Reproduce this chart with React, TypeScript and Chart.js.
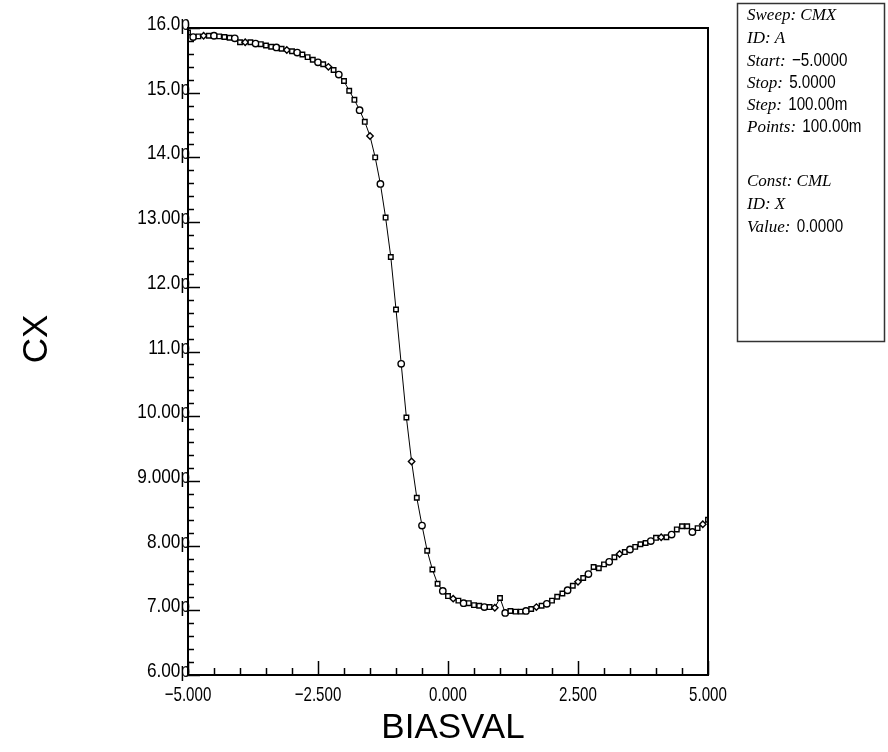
import React, { useEffect, useRef } from "react";
import { Chart, registerables } from "chart.js";

Chart.register(...registerables);

// Sweep values (V)
const biasVal = [
  -5.0, -4.9, -4.8, -4.7, -4.6, -4.5, -4.4, -4.3, -4.2, -4.1,
  -4.0, -3.9, -3.8, -3.7, -3.6, -3.5, -3.4, -3.3, -3.2, -3.1,
  -3.0, -2.9, -2.8, -2.7, -2.6, -2.5, -2.4, -2.3, -2.2, -2.1,
  -2.0, -1.9, -1.8, -1.7, -1.6, -1.5, -1.4, -1.3, -1.2, -1.1,
  -1.0, -0.9, -0.8, -0.7, -0.6, -0.5, -0.4, -0.3, -0.2, -0.1,
  0.0, 0.1, 0.2, 0.3, 0.4, 0.5, 0.6, 0.7, 0.8, 0.9,
  1.0, 1.1, 1.2, 1.3, 1.4, 1.5, 1.6, 1.7, 1.8, 1.9,
  2.0, 2.1, 2.2, 2.3, 2.4, 2.5, 2.6, 2.7, 2.8, 2.9,
  3.0, 3.1, 3.2, 3.3, 3.4, 3.5, 3.6, 3.7, 3.8, 3.9,
  4.0, 4.1, 4.2, 4.3, 4.4, 4.5, 4.6, 4.7, 4.8, 4.9,
  5.0,
];

// Measured capacitance (pF)
const cxPico = [
  15.93, 15.86, 15.87, 15.88, 15.88, 15.88, 15.87, 15.86, 15.85, 15.84,
  15.78, 15.78, 15.78, 15.76, 15.75, 15.73, 15.71, 15.70, 15.68, 15.66,
  15.64, 15.62, 15.59, 15.55, 15.51, 15.47, 15.44, 15.40, 15.35, 15.28,
  15.18, 15.03, 14.89, 14.73, 14.55, 14.33, 14.0, 13.59, 13.07, 12.46,
  11.65, 10.81, 9.98, 9.30, 8.74, 8.31, 7.92, 7.63, 7.41, 7.30,
  7.22, 7.18, 7.15, 7.11, 7.11, 7.08, 7.07, 7.05, 7.05, 7.04,
  7.19, 6.96, 6.99, 6.98, 6.98, 6.99, 7.02, 7.05, 7.07, 7.10,
  7.15, 7.21, 7.26, 7.31, 7.38, 7.44, 7.50, 7.56, 7.67, 7.65,
  7.71, 7.75, 7.82, 7.87, 7.90, 7.94, 7.98, 8.02, 8.04, 8.07,
  8.12, 8.13, 8.13, 8.17, 8.25, 8.30, 8.30, 8.21, 8.27, 8.33,
  8.40,
];

const yTickValues = [6, 7, 8, 9, 10, 11, 12, 13, 14, 15, 16];
const yTickLabels = ["6.00p", "7.00p", "8.00p", "9.000p", "10.00p", "11.0p", "12.0p", "13.00p", "14.0p", "15.0p", "16.0p"];
const xTickValues = [-5, -2.5, 0, 2.5, 5];
const xTickLabels = ["\u22125.000", "\u22122.500", "0.000", "2.500", "5.000"];

const legendLabels = ["Sweep:", "ID:", "Start:", "Stop:", "Step:", "Points:", "", "Const:", "ID:", "Value:"];
const legendValues = ["CMX", "A", "\u22125.0000", "5.0000", "100.00m", "100.00m", "", "CML", "X", "0.0000"];

const xTitle = "BIASVAL";
const yTitle = "CX";

const markerStyles = ["rect", "circle", "rect", "rectRot", "rect", "circle", "rect", "rect"];

const NUM_FONT = "21px 'Liberation Sans', Arial, sans-serif";
const SCRIPT = "italic 17px 'Liberation Serif', 'DejaVu Serif', serif";

function drawCondensed(ctx: CanvasRenderingContext2D, text: string, x: number, y: number, align: "left" | "center" | "right", sx: number, font = NUM_FONT) {
  ctx.save();
  ctx.font = font;
  ctx.textBaseline = "alphabetic";
  const w = ctx.measureText(text).width * sx;
  let left = x;
  if (align === "center") left = x - w / 2;
  if (align === "right") left = x - w;
  ctx.translate(left, y);
  ctx.scale(sx, 1);
  ctx.textAlign = "left";
  ctx.fillText(text, 0, 0);
  ctx.restore();
  return w;
}

const decorPlugin = {
  id: "decor",
  afterDraw(chart: any) {
    const ctx = chart.ctx as CanvasRenderingContext2D;
    const xs = chart.scales.x;
    const ys = chart.scales.y;
    const area = chart.chartArea;
    ctx.save();
    ctx.strokeStyle = "#000";
    ctx.fillStyle = "#000";
    ctx.lineWidth = 1.5;
    // inside ticks on y axis
    for (let i = 0; i <= 50; i++) {
      const v = 6 + i * 0.2;
      const y = Math.round(ys.getPixelForValue(v)) + 0.5;
      const len = i % 5 === 0 ? 12 : 6;
      ctx.beginPath();
      ctx.moveTo(area.left, y);
      ctx.lineTo(area.left + len, y);
      ctx.stroke();
    }
    // inside ticks on x axis
    for (let i = 0; i <= 20; i++) {
      const v = -5 + i * 0.5;
      const x = Math.round(xs.getPixelForValue(v)) + 0.5;
      const len = i % 5 === 0 ? 14 : 7;
      ctx.beginPath();
      ctx.moveTo(x, area.bottom);
      ctx.lineTo(x, area.bottom - len);
      ctx.stroke();
    }
    // frame
    ctx.lineWidth = 2;
    ctx.strokeRect(area.left, area.top, area.right - area.left, area.bottom - area.top);

    // tick labels
    yTickValues.forEach((v, i) => {
      const y = ys.getPixelForValue(v);
      drawCondensed(ctx, yTickLabels[i], area.left + 2, y + 2, "right", 0.82);
    });
    xTickValues.forEach((v, i) => {
      const x = xs.getPixelForValue(v);
      drawCondensed(ctx, xTickLabels[i], x, area.bottom + 26, "center", 0.72);
    });

    // axis titles
    ctx.font = "35px 'Liberation Sans', Arial, sans-serif";
    ctx.textAlign = "center";
    ctx.textBaseline = "alphabetic";
    ctx.fillText(xTitle, (area.left + area.right) / 2 + 5, 738);
    ctx.save();
    ctx.translate(47, 339);
    ctx.rotate(-Math.PI / 2);
    ctx.fillText(yTitle, 0, 0);
    ctx.restore();

    // info box
    ctx.lineWidth = 1.5;
    ctx.strokeStyle = "#333";
    ctx.strokeRect(737.5, 3.5, 147, 338);
    const rowY = [20, 43, 66, 88, 110, 132, 0, 186, 209, 232];
    for (let i = 0; i < legendLabels.length; i++) {
      if (!legendLabels[i]) continue;
      const lx = 747;
      const ly = rowY[i];
      ctx.font = SCRIPT;
      ctx.textAlign = "left";
      ctx.textBaseline = "alphabetic";
      ctx.fillText(legendLabels[i], lx, ly);
      const w = ctx.measureText(legendLabels[i] + " ").width;
      const val = legendValues[i];
      if (/^[A-Z]+$/.test(val)) {
        ctx.font = SCRIPT;
        ctx.fillText(val, lx + w, ly);
      } else {
        drawCondensed(ctx, val, lx + w + 2, ly, "left", 0.8, "19px 'Liberation Sans', Arial, sans-serif");
      }
    }
    ctx.restore();
  },
};

export default function App() {
  const ref = useRef<HTMLCanvasElement | null>(null);
  useEffect(() => {
    if (!ref.current) return;
    const points = biasVal.map((x, i) => ({ x, y: cxPico[i] }));
    const chart = new Chart(ref.current, {
      type: "scatter",
      data: {
        datasets: [
          {
            data: points,
            showLine: true,
            borderColor: "#000",
            borderWidth: 1,
            backgroundColor: "#fff",
            pointBorderColor: "#000",
            pointBackgroundColor: "#fff",
            pointBorderWidth: 1.4,
            pointRadius: 3.2,
            pointStyle: points.map((_, i) => markerStyles[i % markerStyles.length]) as any,
            tension: 0,
          },
        ],
      },
      options: {
        animation: false,
        responsive: false,
        devicePixelRatio: 1,
        layout: { padding: { left: 0, right: 180, top: 28, bottom: 0 } },
        plugins: { legend: { display: false }, tooltip: { enabled: false } },
        scales: {
          x: {
            type: "linear",
            min: -5,
            max: 5,
            afterFit(scale: any) {
              scale.height = 77;
            },
            grid: { display: false, drawTicks: false },
            border: { display: false },
            ticks: { display: false, stepSize: 2.5 },
          },
          y: {
            type: "linear",
            min: 6,
            max: 16,
            afterFit(scale: any) {
              scale.width = 188;
            },
            grid: { display: false, drawTicks: false },
            border: { display: false },
            ticks: { display: false, stepSize: 1 },
          },
        },
      },
      plugins: [decorPlugin],
    });
    return () => chart.destroy();
  }, []);
  return (
    <div style={{ position: "absolute", left: 0, top: 0, width: 888, height: 752, background: "#fff" }}>
      <canvas ref={ref} width={888} height={752} style={{ display: "block" }} />
    </div>
  );
}
